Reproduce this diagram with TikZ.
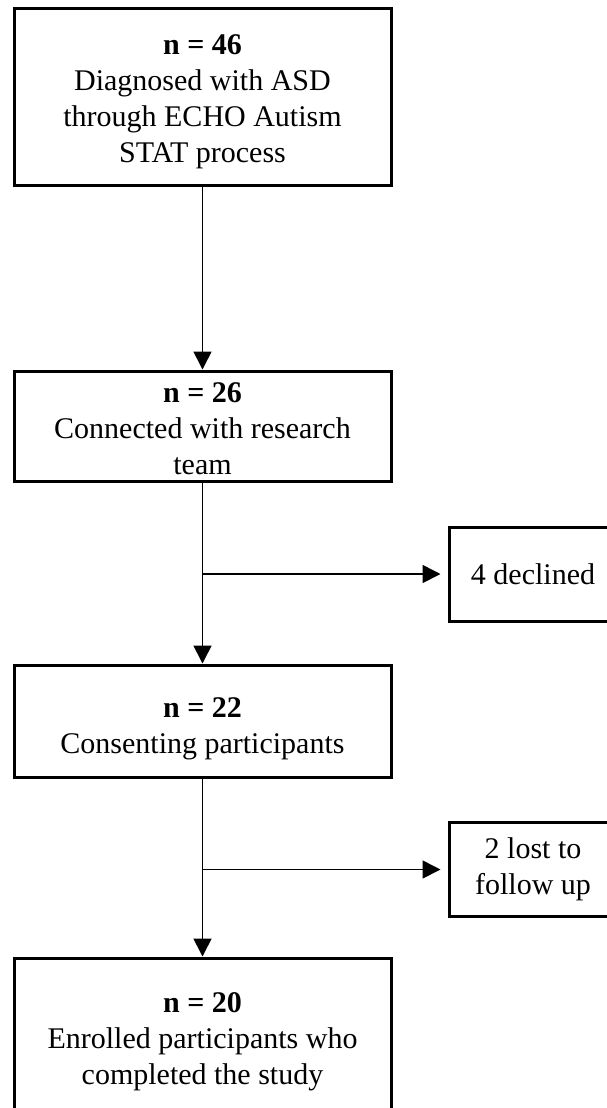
\documentclass[tikz,border=0pt]{standalone}
\usepackage{fontspec}
\setmainfont{Liberation Serif}
\usetikzlibrary{arrows.meta}

\newcommand{\lift}[1]{\rule{0pt}{#1}}

\begin{document}
\begin{tikzpicture}[
  x=0.5pt, y=-0.5pt,
  font=\fontsize{15}{18}\selectfont,
  >={Triangle[length=9pt, width=9pt]},
  box/.style={rectangle, draw, line width=1.5pt, align=center,
    minimum width=188.5pt, inner sep=0pt},
  sidebox/.style={rectangle, draw, line width=1.5pt, align=center,
    minimum width=84pt, minimum height=47pt, inner sep=0pt},
  arrow/.style={->, line width=0.8pt},
  branch/.style={->, line width=0.8pt, shorten >=3.5pt}
]
  \useasboundingbox (0,0) rectangle (606,1108);

  % Flow principal.
  \node[box, minimum height=88.5pt] (diagnosed) at (202.5,96.5)
    {\lift{15pt}\textbf{n = 46}\\Diagnosed with ASD\\through ECHO Autism\\STAT process};
  \node[box, minimum height=55pt] (connected) at (202.5,426)
    {\lift{13pt}\textbf{n = 26}\\Connected with research\\team};
  \node[box, minimum height=56pt] (consenting) at (202.5,721)
    {\lift{18pt}\textbf{n = 22}\\Consenting participants};
  \node[box, minimum height=80pt] (enrolled) at (202.5,1038)
    {\lift{14pt}\textbf{n = 20}\\Enrolled participants who\\completed the study};

  % Exclusoes.
  \node[sidebox] (declined) at (533,574) {4 declined};
  \node[sidebox] (lost) at (533,869.5) {2 lost to\\follow up};

  % Setas.
  \draw[arrow] (diagnosed) -- (connected);
  \draw[arrow] (connected) -- (consenting);
  \draw[arrow] (consenting) -- (enrolled);
  \draw[branch] (connected.south |- declined.west) -- (declined.west);
  \draw[branch] (consenting.south |- lost.west) -- (lost.west);
\end{tikzpicture}
\end{document}
